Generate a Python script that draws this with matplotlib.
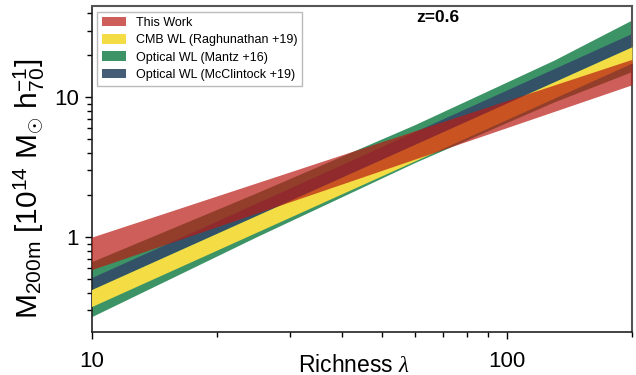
import matplotlib
matplotlib.use("Agg")
import matplotlib.pyplot as plt
from matplotlib.patches import Patch

plt.rcParams['font.family'] = ['Liberation Sans', 'DejaVu Sans']
plt.rcParams['mathtext.fontset'] = 'custom'
plt.rcParams['mathtext.rm'] = 'Liberation Sans'
plt.rcParams['mathtext.it'] = 'Liberation Serif:italic'
plt.rcParams['mathtext.bf'] = 'Liberation Sans:bold'

# Data: band edges
richness = [10, 200]
this_work_lo = [0.586, 12.3]
this_work_hi = [1.00, 18.7]
cmb_lo = [0.319, 17.6]
cmb_hi = [0.422, 23.0]
mcc_lo = [0.422, 23.0]
mcc_hi = [0.514, 28.7]
richness_mantz = [10, 25, 60, 130, 200]
mantz_lo = [0.270, 1.01, 3.42, 9.29, 15.3]
mantz_hi = [0.668, 2.08, 6.38, 18.5, 35.8]

labels = ["This Work", "CMB WL (Raghunathan +19)",
          "Optical WL (Mantz +16)", "Optical WL (McClintock +19)"]

c_red = '#b81a13'
c_yel = '#f4dc45'
c_grn = '#3c9466'
c_blu = '#324b69'

fig = plt.figure(figsize=(6.36, 3.75), dpi=100)
ax = fig.add_axes([0.1439, 0.1147, 0.8498, 0.8693])

ax.fill_between(richness_mantz, mantz_lo, mantz_hi, color=c_grn, lw=0, zorder=1)
ax.fill_between(richness, mcc_lo, mcc_hi, color=c_blu, alpha=0.9, lw=0, zorder=2)
ax.fill_between(richness, cmb_lo, cmb_hi, color=c_yel, lw=0, zorder=3)
ax.fill_between(richness, this_work_lo, this_work_hi, color=c_red, alpha=0.7, lw=0, zorder=4)

ax.set_xscale('log')
ax.set_yscale('log')
ax.set_xlim(10, 200)
ax.set_ylim(0.21, 45)

ax.set_xticks([10, 100])
ax.set_xticklabels(['10', '100'])
ax.set_yticks([1, 10])
ax.set_yticklabels(['1', '10'])

ax.tick_params(axis='both', which='major', labelsize=16, length=5, width=1, direction='out')
ax.tick_params(axis='both', which='minor', length=3.5, width=1, direction='out')
ax.tick_params(axis='x', which='major', pad=9)
ax.tick_params(axis='y', which='major', pad=4)
ax.tick_params(which='both', top=False, right=False)

for s in ['left', 'bottom']:
    ax.spines[s].set_color('#222222')
    ax.spines[s].set_linewidth(1.2)
for s in ['top', 'right']:
    ax.spines[s].set_color('#555555')
    ax.spines[s].set_linewidth(1.5)

ax.set_xlabel(r'Richness $\lambda$', fontsize=16.5)
ax.xaxis.set_label_coords(0.486, -0.066)
ax.set_ylabel(r'M$_{200\mathrm{m}}$ [10$^{14}$ M$_{\odot}$ h$^{-1}_{70}$]', fontsize=21.5)
ax.yaxis.set_label_coords(-0.082, 0.44)

ax.text(0.600, 0.966, 'z=0.6', transform=ax.transAxes, fontsize=12.5,
        fontweight='bold', ha='left', va='center')

handles = [Patch(facecolor=c_red, alpha=0.7, lw=0),
           Patch(facecolor=c_yel, lw=0),
           Patch(facecolor=c_grn, lw=0),
           Patch(facecolor=c_blu, alpha=0.9, lw=0)]
leg = ax.legend(handles, labels, loc='upper left', fontsize=9,
                frameon=True, fancybox=False, edgecolor='#aaaaaa',
                borderaxespad=0.45, handlelength=1.9, handleheight=0.8,
                labelspacing=0.42, handletextpad=0.8, borderpad=0.4)
leg.get_frame().set_linewidth(1.0)

fig.savefig('out.png', dpi=100)
